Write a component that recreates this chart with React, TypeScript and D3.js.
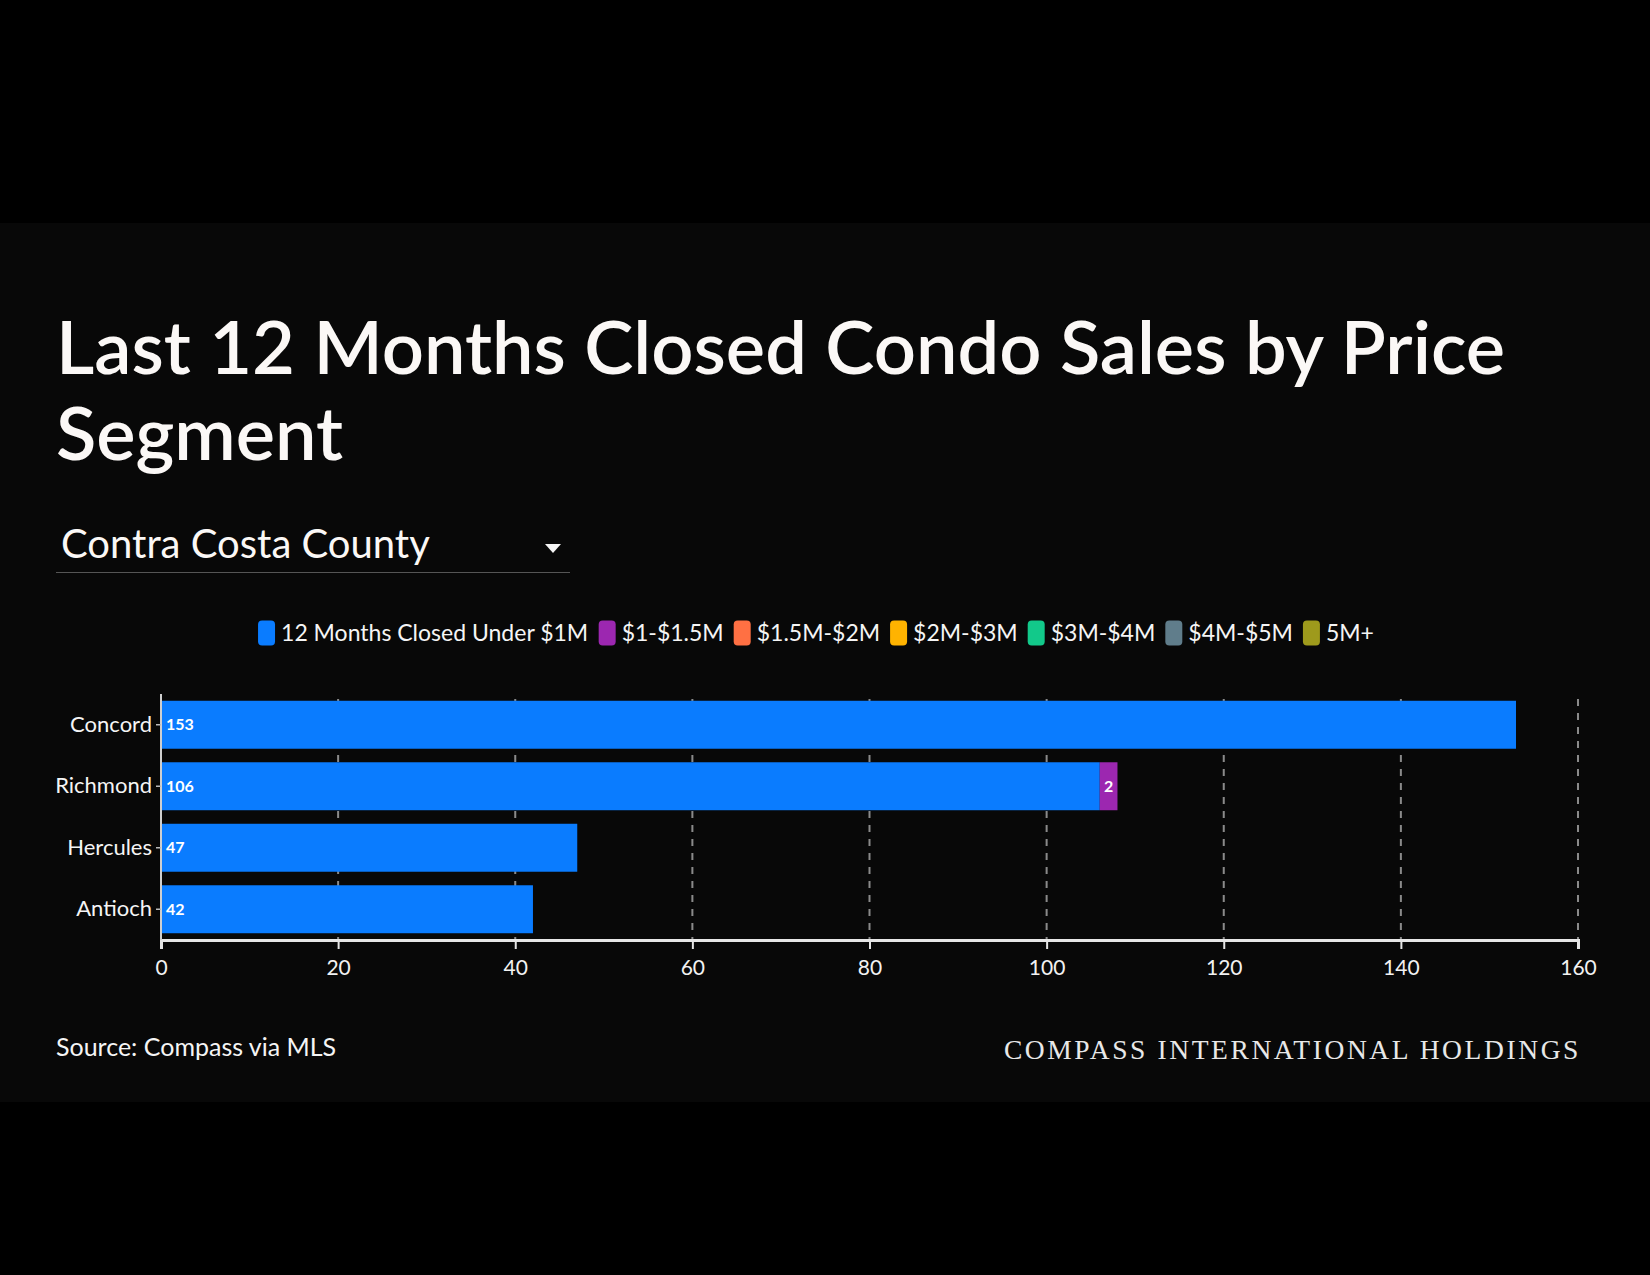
import * as d3 from "d3";
import React, { useEffect, useRef } from "react";

const cities = ["Concord", "Richmond", "Hercules", "Antioch"];
const segments = [
  "12 Months Closed Under $1M",
  "$1-$1.5M",
  "$1.5M-$2M",
  "$2M-$3M",
  "$3M-$4M",
  "$4M-$5M",
  "5M+",
];
const segmentColors = ["#0a7cff", "#9c27b0", "#ff7043", "#ffb300", "#12c98a", "#607d8b", "#9e9a1c"];
const under1M = [153, 106, 47, 42];
const from1To15 = [0, 2, 0, 0];
const from15To2 = [0, 0, 0, 0];
const from2To3 = [0, 0, 0, 0];
const from3To4 = [0, 0, 0, 0];
const from4To5 = [0, 0, 0, 0];
const over5M = [0, 0, 0, 0];
const xTicks = [0, 20, 40, 60, 80, 100, 120, 140, 160];

const W = 1650;
const H = 1275;
const FONT = "Lato, 'Open Sans', sans-serif";

const measure = (text: string, font: string) => {
  const ctx = document.createElement("canvas").getContext("2d")!;
  ctx.font = font;
  return ctx.measureText(text).width;
};

const Chart = ({
  marginTop = 694,
  marginRight = 72,
  marginBottom = 335,
  marginLeft = 161,
}: {
  marginTop?: number;
  marginRight?: number;
  marginBottom?: number;
  marginLeft?: number;
}) => {
  const gx = useRef(null);
  const gy = useRef(null);

  const series = [under1M, from1To15, from15To2, from2To3, from3To4, from4To5, over5M];
  const rows = cities.map((c, i) => {
    const r: any = { city: c };
    segments.forEach((s, j) => (r[s] = series[j][i]));
    return r;
  });
  const stacked = d3.stack().keys(segments)(rows);

  const x = d3.scaleLinear([0, 160], [marginLeft, W - marginRight]);
  const y = d3
    .scaleBand(cities, [marginTop, H - marginBottom])
    .paddingInner(0.22)
    .paddingOuter(0.11);

  useEffect(() => {
    if (gx.current) {
      const g = d3.select(gx.current);
      g.call(d3.axisBottom(x).tickValues(xTicks).tickSize(9).tickPadding(11) as any);
      g.select(".domain").attr("stroke", "#e6e6e6").attr("stroke-width", 3);
      g.selectAll(".tick line").attr("stroke", "#e6e6e6").attr("stroke-width", 2);
      g.selectAll(".tick text")
        .attr("fill", "#f2f2f2")
        .style("font-family", FONT)
        .style("font-size", "21px");
    }
  }, [gx, x]);

  useEffect(() => {
    if (gy.current) {
      const g = d3.select(gy.current);
      g.call(d3.axisLeft(y).tickSize(5).tickPadding(4) as any);
      g.select(".domain").attr("stroke", "#cfcfcf").attr("stroke-width", 2).attr("d", `M0,${marginTop}V${H - marginBottom}`);
      g.selectAll(".tick line").attr("stroke", "#bbbbbb").attr("stroke-width", 1.5);
      g.selectAll(".tick text")
        .attr("fill", "#f5f5f5")
        .style("font-family", FONT)
        .style("font-size", "22px");
    }
  }, [gy, y]);

  // legend layout from measured text widths
  const legendSize = 23;
  const legendFont = `${legendSize}px ${FONT}`;
  const swatchW = 17;
  const gapText = 6;
  const gapItem = 10;
  const widths = segments.map((s) => swatchW + gapText + measure(s, legendFont));
  const total = d3.sum(widths) + gapItem * (segments.length - 1);
  let cursor = 816 - total / 2;
  const legendX = widths.map((w) => {
    const p = cursor;
    cursor += w + gapItem;
    return p;
  });

  return (
    <svg width={W} height={H} style={{ position: "absolute", left: 0, top: 0 }}>
      <rect width={W} height={H} fill="#000" />
      <rect y={223} width={W} height={879} fill="#080808" />

      <g fill="#fbf8f6" style={{ fontFamily: FONT }}>
        <text x={56} y={374} fontSize={74} fontWeight={600}>
          Last 12 Months Closed Condo Sales by Price
        </text>
        <text x={56} y={460} fontSize={74} fontWeight={600}>
          Segment
        </text>
        <text x={61} y={558} fontSize={40}>
          Contra Costa County
        </text>
      </g>
      <path d="M545,544 L561,544 L553,553 Z" fill="#f5f5f5" />
      <line x1={56} x2={570} y1={572.5} y2={572.5} stroke="#555" strokeWidth={1} />

      <g style={{ fontFamily: FONT }}>
        {segments.map((s, i) => (
          <g key={s} transform={`translate(${legendX[i]},633)`}>
            <rect y={-12.5} width={swatchW} height={25} rx={4} fill={segmentColors[i]} />
            <text x={swatchW + gapText} dy="0.35em" fontSize={legendSize} fill="#f5f5f5">
              {s}
            </text>
          </g>
        ))}
      </g>

      <g stroke="#8a8a8a" strokeWidth={2} strokeDasharray="7,7">
        {xTicks.slice(1).map((t) => (
          <line key={t} x1={x(t)} x2={x(t)} y1={marginTop + 5} y2={H - marginBottom} />
        ))}
      </g>

      {stacked.map((layer, j) => (
        <g key={layer.key} fill={segmentColors[j]}>
          {layer.map((d, i) =>
            d[1] - d[0] > 0 ? (
              <rect
                key={i}
                x={x(d[0])}
                y={y(cities[i])}
                width={x(d[1]) - x(d[0])}
                height={y.bandwidth()}
              />
            ) : null,
          )}
        </g>
      ))}

      <g fill="#fff" fontSize={16} fontWeight={700} style={{ fontFamily: FONT }}>
        {stacked.map((layer, j) =>
          layer.map((d, i) => {
            const v = d[1] - d[0];
            if (v <= 0) return null;
            const cy = (y(cities[i]) ?? 0) + y.bandwidth() / 2;
            return j === 0 ? (
              <text key={`${j}-${i}`} x={x(d[0]) + 5} y={cy} dy="0.35em">
                {v}
              </text>
            ) : (
              <text key={`${j}-${i}`} x={(x(d[0]) + x(d[1])) / 2} y={cy} dy="0.35em" textAnchor="middle">
                {v}
              </text>
            );
          }),
        )}
      </g>

      <g ref={gx} transform={`translate(0,${H - marginBottom})`} />
      <g ref={gy} transform={`translate(${marginLeft},0)`} />

      <text x={56} y={1056} fontSize={25} fill="#f5f5f5" style={{ fontFamily: FONT }}>
        Source: Compass via MLS
      </text>
      <text
        x={1581}
        y={1059}
        fontSize={27.5}
        fill="#e8e8e8"
        textAnchor="end"
        letterSpacing={2.6}
        style={{ fontFamily: "'Liberation Serif', 'DejaVu Serif', serif" }}
      >
        COMPASS INTERNATIONAL HOLDINGS
      </text>
    </svg>
  );
};

export default function App() {
  return <Chart />;
}
